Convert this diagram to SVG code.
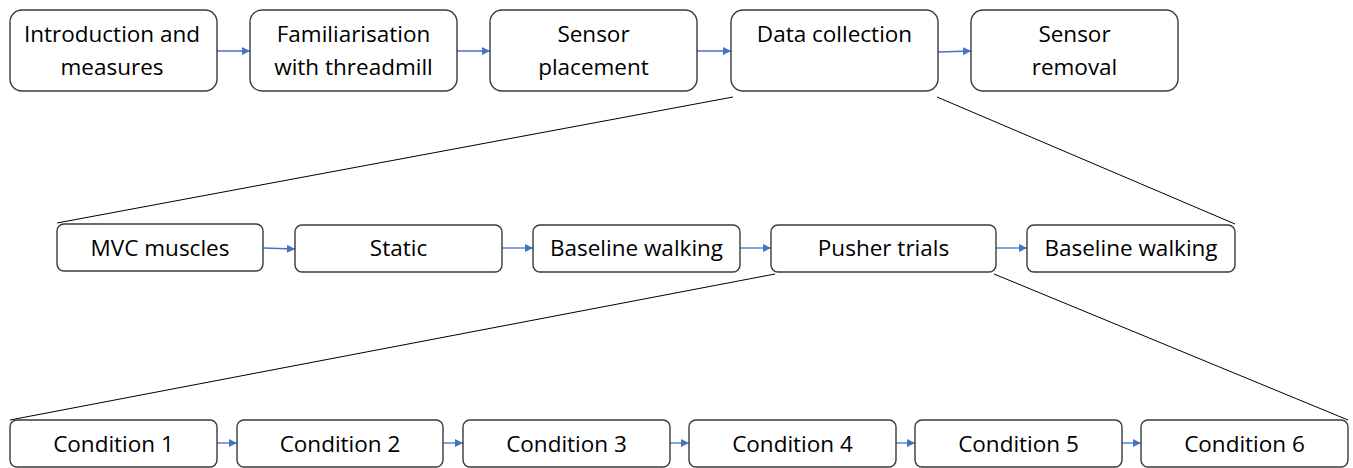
<svg xmlns="http://www.w3.org/2000/svg" width="1353" height="468" viewBox="0 0 1353 468">
<style>
.b{fill:#fff;stroke:#3a3a3a;stroke-width:1.4}
.t{font-family:"Open Sans","Liberation Sans",sans-serif;font-size:22.5px;fill:#000;text-anchor:middle}
.a{stroke:#4472C4;stroke-width:1.3;fill:none;marker-end:url(#ah)}
.l{stroke:#000;stroke-width:1;fill:none}
</style>
<defs>
<marker id="ah" viewBox="0 0 10 10" refX="10" refY="5" markerWidth="8" markerHeight="8" markerUnits="userSpaceOnUse" orient="auto">
<path d="M0,0 L10,5 L0,10 z" fill="#4472C4"/>
</marker>
</defs>
<g id="connectors">
<line class="a" x1="217" y1="51" x2="250" y2="51"/>
<line class="a" x1="457" y1="51" x2="490" y2="51"/>
<line class="a" x1="697" y1="51" x2="731" y2="51"/>
<line class="a" x1="938" y1="52" x2="971" y2="51"/>
<line class="l" x1="733" y1="97" x2="57" y2="223"/>
<line class="l" x1="937" y1="97" x2="1235" y2="224"/>
<line class="a" x1="263" y1="248" x2="295" y2="249"/>
<line class="a" x1="502" y1="248" x2="533" y2="248"/>
<line class="a" x1="740" y1="248" x2="771" y2="248"/>
<line class="a" x1="996" y1="248" x2="1027" y2="248"/>
<line class="l" x1="775" y1="274" x2="10" y2="420"/>
<line class="l" x1="994" y1="274" x2="1348" y2="420"/>
<line class="a" x1="217" y1="443" x2="237" y2="443"/>
<line class="a" x1="443" y1="443" x2="463" y2="443"/>
<line class="a" x1="670" y1="443" x2="689" y2="443"/>
<line class="a" x1="896" y1="443" x2="915" y2="443"/>
<line class="a" x1="1122" y1="443" x2="1141" y2="443"/>
</g>
<g id="n1"><rect class="b" x="10" y="10" width="207" height="81" rx="12"/><text class="t" x="112" y="42">Introduction and</text><text class="t" x="112" y="75">measures</text></g>
<g id="n2"><rect class="b" x="250" y="10" width="207" height="81" rx="12"/><text class="t" x="353.5" y="42">Familiarisation</text><text class="t" x="353.5" y="75">with threadmill</text></g>
<g id="n3"><rect class="b" x="490" y="10" width="207" height="81" rx="12"/><text class="t" x="593.5" y="42">Sensor</text><text class="t" x="593.5" y="75">placement</text></g>
<g id="n4"><rect class="b" x="731" y="10" width="207" height="81" rx="12"/><text class="t" x="834.5" y="42">Data collection</text></g>
<g id="n5"><rect class="b" x="971" y="10" width="207" height="81" rx="12"/><text class="t" x="1074.5" y="42">Sensor</text><text class="t" x="1074.5" y="75">removal</text></g>
<g id="m1"><rect class="b" x="57" y="224" width="206" height="47" rx="7"/><text class="t" x="160" y="256">MVC muscles</text></g>
<g id="m2"><rect class="b" x="295" y="225" width="207" height="47" rx="7"/><text class="t" x="398.5" y="256">Static</text></g>
<g id="m3"><rect class="b" x="533" y="225" width="207" height="47" rx="7"/><text class="t" x="636.5" y="256">Baseline walking</text></g>
<g id="m4"><rect class="b" x="771" y="225" width="225" height="47" rx="7"/><text class="t" x="883.5" y="256">Pusher trials</text></g>
<g id="m5"><rect class="b" x="1027" y="225" width="208" height="47" rx="7"/><text class="t" x="1131" y="256">Baseline walking</text></g>
<g id="c1"><rect class="b" x="10" y="420" width="207" height="47" rx="7"/><text class="t" x="113.5" y="452">Condition 1</text></g>
<g id="c2"><rect class="b" x="237" y="420" width="206" height="47" rx="7"/><text class="t" x="340" y="452">Condition 2</text></g>
<g id="c3"><rect class="b" x="463" y="420" width="207" height="47" rx="7"/><text class="t" x="566.5" y="452">Condition 3</text></g>
<g id="c4"><rect class="b" x="689" y="420" width="207" height="47" rx="7"/><text class="t" x="792.5" y="452">Condition 4</text></g>
<g id="c5"><rect class="b" x="915" y="420" width="207" height="47" rx="7"/><text class="t" x="1018.5" y="452">Condition 5</text></g>
<g id="c6"><rect class="b" x="1141" y="420" width="207" height="47" rx="7"/><text class="t" x="1244.5" y="452">Condition 6</text></g>
</svg>
